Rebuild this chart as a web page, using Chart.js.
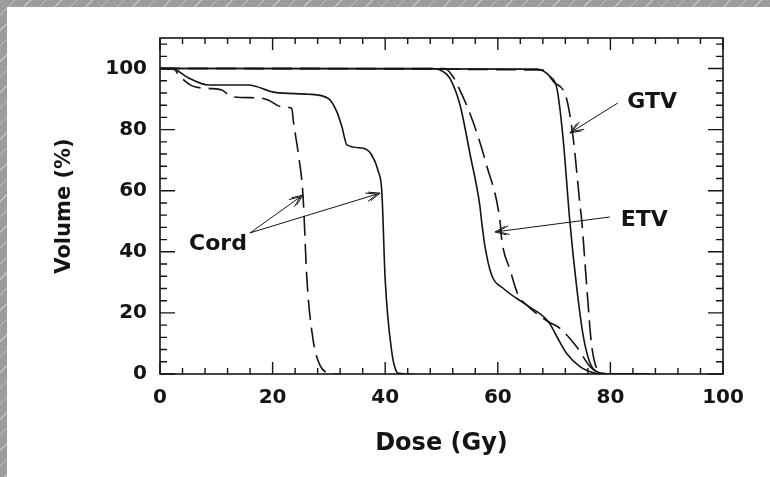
<!DOCTYPE html>
<html>
<head>
<meta charset="utf-8">
<script src="https://cdn.jsdelivr.net/npm/chart.js@4"></script>
<style>
  html, body { margin: 0; padding: 0; }
  body {
    width: 770px; height: 477px; overflow: hidden; position: relative;
    background: repeating-linear-gradient(135deg, #9c9c9c 0px, #9c9c9c 10px, #c4c4c4 10px, #c4c4c4 11px);
  }
  #panel { position: absolute; left: 7px; top: 7px; width: 763px; height: 470px; background: #fff; }
  #dvh { position: absolute; left: 0; top: 0; }
</style>
</head>
<body>
<div id="panel"></div>
<canvas id="dvh" width="770" height="477"></canvas>
<script>
// dose (Gy) / volume (%) pairs
const cordSolidDose = [0, 2.4, 5, 8.6, 15.7, 20.4, 26.3, 29.9, 31.4, 32.3, 33.2, 36.1, 37.6, 38.8, 39.4, 40, 41.2, 42, 42.5, 45];
const cordSolidVol  = [100, 99.8, 97, 94.6, 94.6, 92.2, 91.6, 90.2, 85.9, 81, 75, 73.9, 71.7, 66.2, 59.7, 30.8, 6.8, 0.8, 0.2, 0];

const cordDashDose = [0, 2.4, 3.3, 5.6, 8.6, 11, 12.7, 17.5, 19.2, 21.6, 23.4, 23.7, 24.6, 25.4, 26.1, 27.2, 28.4, 29.6, 30.3, 32];
const cordDashVol  = [100, 100, 97.9, 94.4, 93.5, 93, 90.8, 90.4, 89.7, 87.5, 87, 82.6, 71.7, 58.6, 30.8, 11.1, 2.9, 0.4, 0, 0];

const etvSolidDose = [0, 48.5, 50.3, 51.5, 53.3, 55.1, 56.8, 57.1, 57.7, 58.9, 61, 65.1, 69, 70.5, 72.2, 74.6, 77, 78.6, 87];
const etvSolidVol  = [100, 100, 99, 96.8, 88, 71.7, 55.3, 50.4, 42, 32.4, 28, 22.6, 17.1, 12.2, 6.8, 2.4, 0.4, 0, 0];

const etvDashDose = [0, 50.5, 52, 53, 55.6, 58, 60.4, 60.7, 62.2, 63.6, 65.1, 69, 71, 74, 76.4, 78.1, 80, 87];
const etvDashVol  = [100, 100, 97.5, 94, 82.6, 68.4, 49.9, 43.9, 34, 25.9, 22.6, 17.1, 15, 8.9, 2.4, 0.4, 0, 0];

const gtvSolidDose = [0, 66.9, 69.3, 70.5, 71.6, 72.8, 74, 75.2, 76.4, 78.1, 80, 87];
const gtvSolidVol  = [100, 99.8, 97.3, 93.5, 77.1, 49.9, 28.6, 12.2, 3.5, 0.4, 0, 0];

const gtvDashDose = [0, 68, 69.9, 72.2, 73.4, 74.6, 74.9, 75.8, 76.7, 78.1, 79.7, 87];
const gtvDashVol  = [100, 99.5, 95.7, 90.2, 77.1, 55.3, 50.4, 28.6, 8.9, 0.7, 0, 0];

const xTickLabels = [0, 20, 40, 60, 80, 100];
const yTickLabels = [0, 20, 40, 60, 80, 100];
const minorStep = 4;

// labels and arrows, anchored in data units
const notes = [
  { text: 'Cord', at: [10.3, 42.6], arrows: [[16.0, 46.2, 25.4, 58.6], [16.0, 46.2, 39.1, 59.2]] },
  { text: 'GTV', at: [87.4, 89.0], arrows: [[81.3, 88.7, 72.8, 78.9]] },
  { text: 'ETV', at: [86.0, 50.4], arrows: [[79.9, 51.4, 59.5, 46.5]] },
];

const ink = '#141414';
const boldFont = 'DejaVu Sans';

const pairs = (xs, ys) => xs.map((v, i) => ({ x: v, y: ys[i] }));

const curve = (xs, ys, dashed) => ({
  data: pairs(xs, ys),
  borderColor: ink,
  borderWidth: 1.6,
  borderDash: dashed ? [20, 8] : [],
  pointRadius: 0,
  cubicInterpolationMode: 'monotone',
  fill: false,
});

const drawArrow = (ctx, x1, y1, x2, y2) => {
  ctx.beginPath();
  ctx.moveTo(x1, y1);
  ctx.lineTo(x2, y2);
  ctx.stroke();
  const ang = Math.atan2(y2 - y1, x2 - x1);
  const len = 12, spread = 0.38;
  for (const back of [0, 3]) {
    const bx = x2 - back * Math.cos(ang);
    const by = y2 - back * Math.sin(ang);
    ctx.beginPath();
    ctx.moveTo(bx - len * Math.cos(ang - spread), by - len * Math.sin(ang - spread));
    ctx.lineTo(bx, by);
    ctx.lineTo(bx - len * Math.cos(ang + spread), by - len * Math.sin(ang + spread));
    ctx.stroke();
  }
};

const frameTicksNotes = {
  id: 'frameTicksNotes',
  afterDatasetsDraw(chart) {
    const { ctx, chartArea: a, scales: { x, y } } = chart;
    ctx.save();
    ctx.strokeStyle = ink;
    ctx.lineWidth = 1.6;
    ctx.strokeRect(a.left, a.top, a.right - a.left, a.bottom - a.top);

    ctx.lineWidth = 1.4;
    ctx.beginPath();
    for (let v = 0; v <= 100; v += minorStep) {
      const len = xTickLabels.includes(v) ? 12 : 6;
      const px = x.getPixelForValue(v);
      ctx.moveTo(px, a.bottom); ctx.lineTo(px, a.bottom - len);
      ctx.moveTo(px, a.top); ctx.lineTo(px, a.top + len);
    }
    for (let v = 0; v <= 108; v += minorStep) {
      const len = yTickLabels.includes(v) ? 15 : 7;
      const py = y.getPixelForValue(v);
      ctx.moveTo(a.left, py); ctx.lineTo(a.left + len, py);
      ctx.moveTo(a.right, py); ctx.lineTo(a.right - len, py);
    }
    ctx.stroke();

    ctx.lineWidth = 1;
    ctx.fillStyle = ink;
    ctx.font = 'bold 22px "' + boldFont + '"';
    ctx.textAlign = 'center';
    ctx.textBaseline = 'middle';
    notes.forEach(n => {
      ctx.fillText(n.text, x.getPixelForValue(n.at[0]), y.getPixelForValue(n.at[1]));
      n.arrows.forEach(([x1, y1, x2, y2]) => {
        drawArrow(ctx, x.getPixelForValue(x1), y.getPixelForValue(y1),
                  x.getPixelForValue(x2), y.getPixelForValue(y2));
      });
    });
    ctx.restore();
  }
};

new Chart(document.getElementById('dvh').getContext('2d'), {
  type: 'line',
  data: {
    datasets: [
      curve(cordSolidDose, cordSolidVol, false),
      curve(cordDashDose, cordDashVol, true),
      curve(etvSolidDose, etvSolidVol, false),
      curve(etvDashDose, etvDashVol, true),
      curve(gtvSolidDose, gtvSolidVol, false),
      curve(gtvDashDose, gtvDashVol, true),
    ]
  },
  options: {
    responsive: false,
    animation: false,
    devicePixelRatio: 1,
    layout: { padding: { top: 38, right: 47, bottom: 0, left: 0 } },
    plugins: { legend: { display: false }, tooltip: { enabled: false } },
    scales: {
      x: {
        type: 'linear',
        min: 0,
        max: 100,
        afterFit: s => { s.height = 103; },
        afterBuildTicks: s => { s.ticks = xTickLabels.map(v => ({ value: v })); },
        grid: { display: false, drawTicks: false },
        border: { display: false },
        ticks: { color: ink, padding: 12, maxRotation: 0, font: { family: boldFont, size: 20, weight: 'bold' } },
        title: { display: true, text: 'Dose (Gy)', color: ink, padding: { bottom: 19 },
                 font: { family: boldFont, size: 24, weight: 'bold' } }
      },
      y: {
        type: 'linear',
        min: 0,
        max: 110,
        afterFit: s => { s.width = 160; },
        afterBuildTicks: s => { s.ticks = yTickLabels.map(v => ({ value: v })); },
        grid: { display: false, drawTicks: false },
        border: { display: false },
        ticks: { color: ink, padding: 13, font: { family: boldFont, size: 20, weight: 'bold' } },
        title: { display: true, text: 'Volume (%)', color: ink, padding: { top: 52 },
                 font: { family: boldFont, size: 21, weight: 'bold' } }
      }
    }
  },
  plugins: [frameTicksNotes]
});
</script>
</body>
</html>
